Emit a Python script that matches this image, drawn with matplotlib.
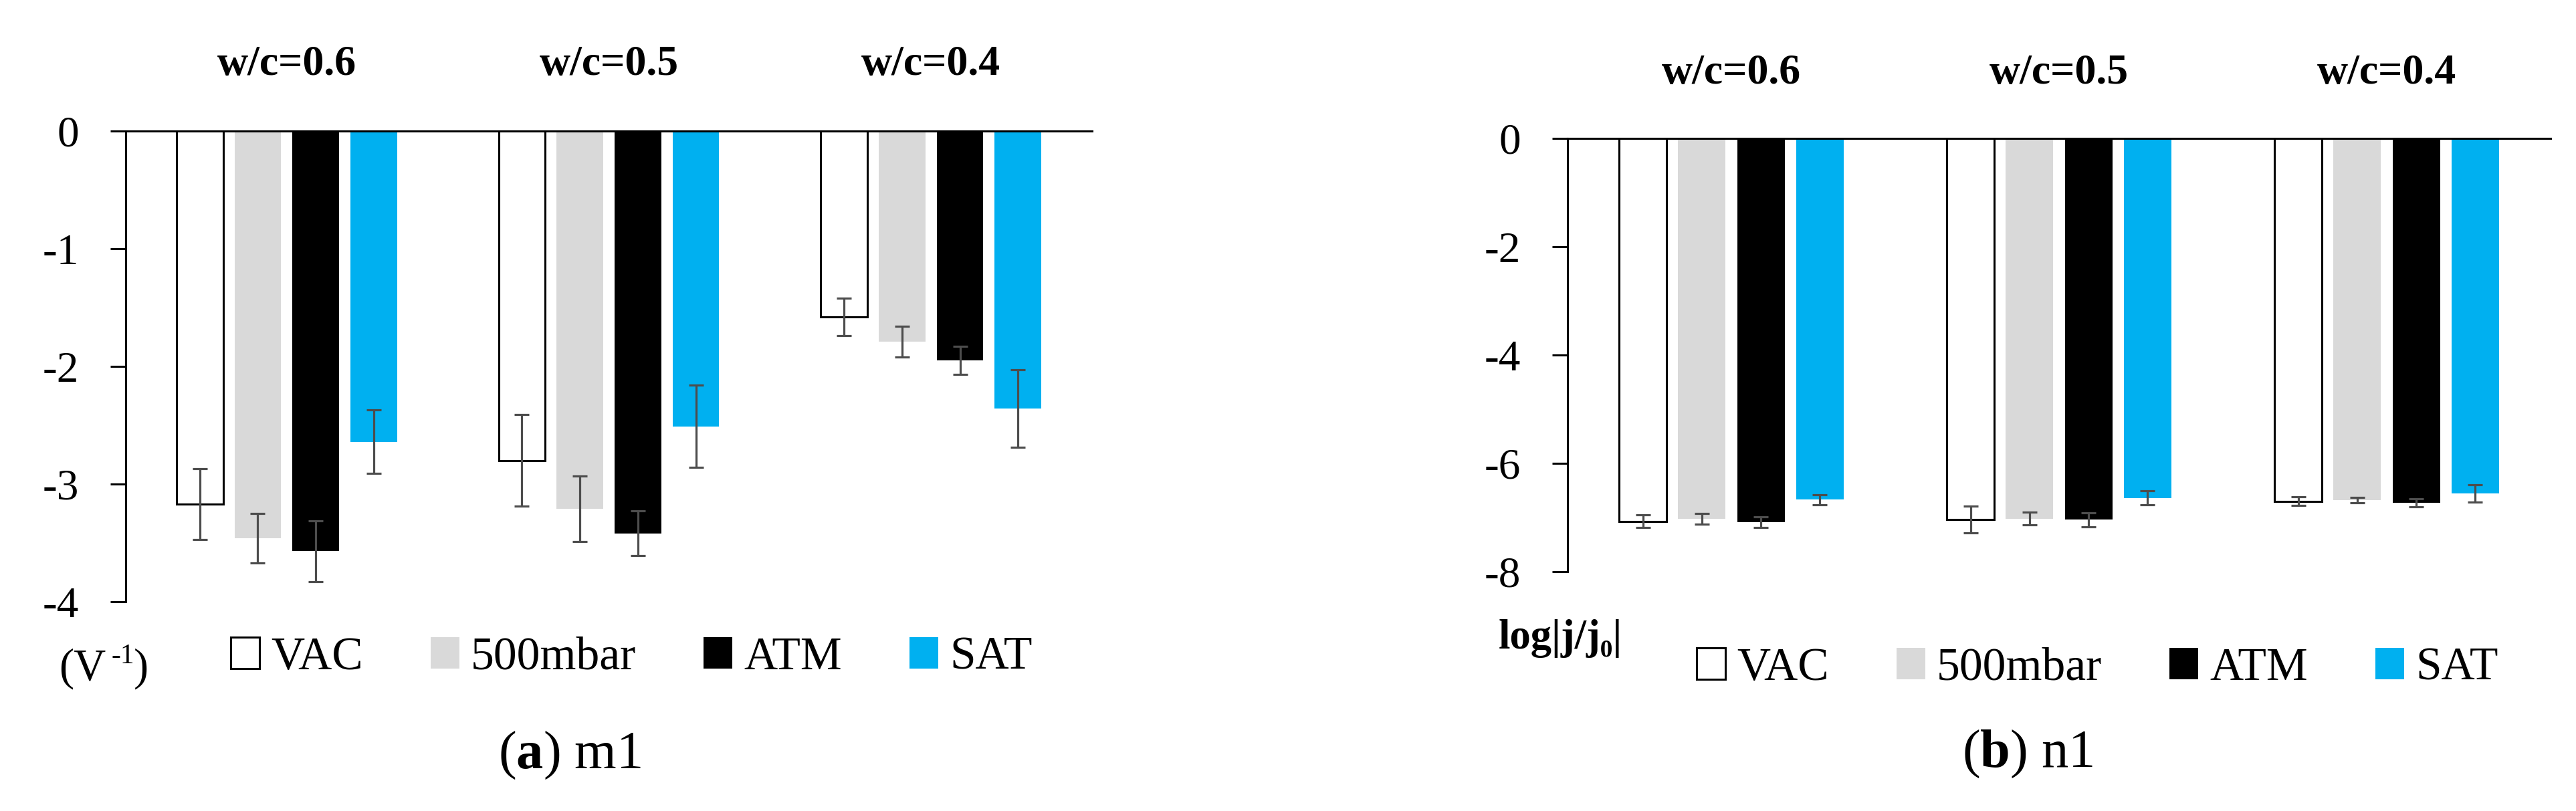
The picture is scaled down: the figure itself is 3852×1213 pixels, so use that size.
import numpy as np
import matplotlib
matplotlib.use("Agg")
import matplotlib.pyplot as plt

plt.rcParams['font.family'] = ['Liberation Serif', 'DejaVu Serif']
plt.rcParams['axes.unicode_minus'] = False
plt.rcParams['mathtext.fontset'] = 'custom'
plt.rcParams['mathtext.rm'] = 'Liberation Serif'
plt.rcParams['mathtext.bf'] = 'Liberation Serif:bold'

groups = ["w/c=0.6", "w/c=0.5", "w/c=0.4"]
series = ["VAC", "500mbar", "ATM", "SAT"]

# (a) m1, V^-1
m1_vac = [-3.17, -2.80, -1.58]
m1_mbar = [-3.46, -3.21, -1.79]
m1_atm = [-3.57, -3.42, -1.95]
m1_sat = [-2.64, -2.51, -2.36]
m1_vac_err = [0.30, 0.39, 0.16]
m1_mbar_err = [0.21, 0.28, 0.13]
m1_atm_err = [0.26, 0.19, 0.12]
m1_sat_err = [0.27, 0.35, 0.33]

# (b) n1, log|j/j0|
n1_vac = [-7.07, -7.04, -6.70]
n1_mbar = [-7.02, -7.02, -6.68]
n1_atm = [-7.09, -7.04, -6.73]
n1_sat = [-6.67, -6.64, -6.56]
n1_vac_err = [0.12, 0.25, 0.08]
n1_mbar_err = [0.10, 0.12, 0.05]
n1_atm_err = [0.10, 0.13, 0.07]
n1_sat_err = [0.09, 0.13, 0.16]

face = ["white", "#d9d9d9", "black", "#00b0f0"]
edge = ["black", "#d9d9d9", "black", "#00b0f0"]

W, H = 3852, 1213
fig = plt.figure(figsize=(W / 100, H / 100), dpi=100)


def panel(rect, vals, errs, ticks, title_y):
    ax = fig.add_axes(rect)
    x = np.arange(len(groups))
    handles = []
    for k in range(4):
        off = (k - 1.5) * 0.18
        lw = 2.2 if k == 0 else 0
        b = ax.bar(x + off, vals[k], 0.145, color=face[k], edgecolor=edge[k],
                   linewidth=lw, label=series[k])
        ax.errorbar(x + off, vals[k], yerr=errs[k], fmt='none', ecolor='#4d4d4d',
                    elinewidth=2.3, capsize=8, capthick=2.3)
        handles.append(b)
    ax.set_xlim(-0.5, 2.5)
    ax.set_ylim(ticks[0], 0)
    ax.set_yticks(ticks)
    ax.set_xticks([])
    for s in ['bottom', 'right']:
        ax.spines[s].set_visible(False)
    for s in ['top', 'left']:
        ax.spines[s].set_linewidth(2.2)
    ax.tick_params(axis='y', direction='out', length=16.5, width=2.2,
                   pad=34, labelsize=47)
    for i, g in enumerate(groups):
        ax.text(i, title_y, g, transform=ax.get_xaxis_transform(), ha='center',
                va='center', fontsize=46, fontweight='bold')
    return ax, handles


ax1, h1 = panel([188 / W, 1 - 900 / H, (1633 - 188) / W, (900 - 196) / H],
                [m1_vac, m1_mbar, m1_atm, m1_sat],
                [m1_vac_err, m1_mbar_err, m1_atm_err, m1_sat_err],
                [-4, -3, -2, -1, 0], 1.14)
ax2, h2 = panel([2344 / W, 1 - 855 / H, (3814 - 2344) / W, (855 - 207) / H],
                [n1_vac, n1_mbar, n1_atm, n1_sat],
                [n1_vac_err, n1_mbar_err, n1_atm_err, n1_sat_err],
                [-8, -6, -4, -2, 0], 1.15)

for ax, h, lx, ly in [(ax1, h1, 345, 984), (ax2, h2, 2537, 1000)]:
    leg = ax.legend(handles=h, labels=series, ncol=4, frameon=False,
                    loc='center left', bbox_to_anchor=(lx / W, 1 - ly / H),
                    bbox_transform=fig.transFigure, fontsize=50,
                    handlelength=0.62, handleheight=0.66, handletextpad=0.25,
                    columnspacing=1.45, borderpad=0, borderaxespad=0)

fig.text(88 / W, 1 - 1000 / H, "(V", fontsize=48, ha='left', va='center')
fig.text(166 / W, 1 - 982 / H, "-1", fontsize=30, ha='left', va='center')
fig.text(200 / W, 1 - 1000 / H, ")", fontsize=48, ha='left', va='center')
fig.text(2241 / W, 1 - 955 / H, "log|j/j\u2080|", fontsize=45, ha='left',
         va='center', fontweight='bold')
fig.text(852 / W, 1 - 1130 / H, r"($\mathbf{a}$) m1", fontsize=58, ha='center', va='center')
fig.text(3032 / W, 1 - 1128 / H, r"($\mathbf{b}$) n1", fontsize=58, ha='center', va='center')

fig.savefig("out.png", dpi=100)
